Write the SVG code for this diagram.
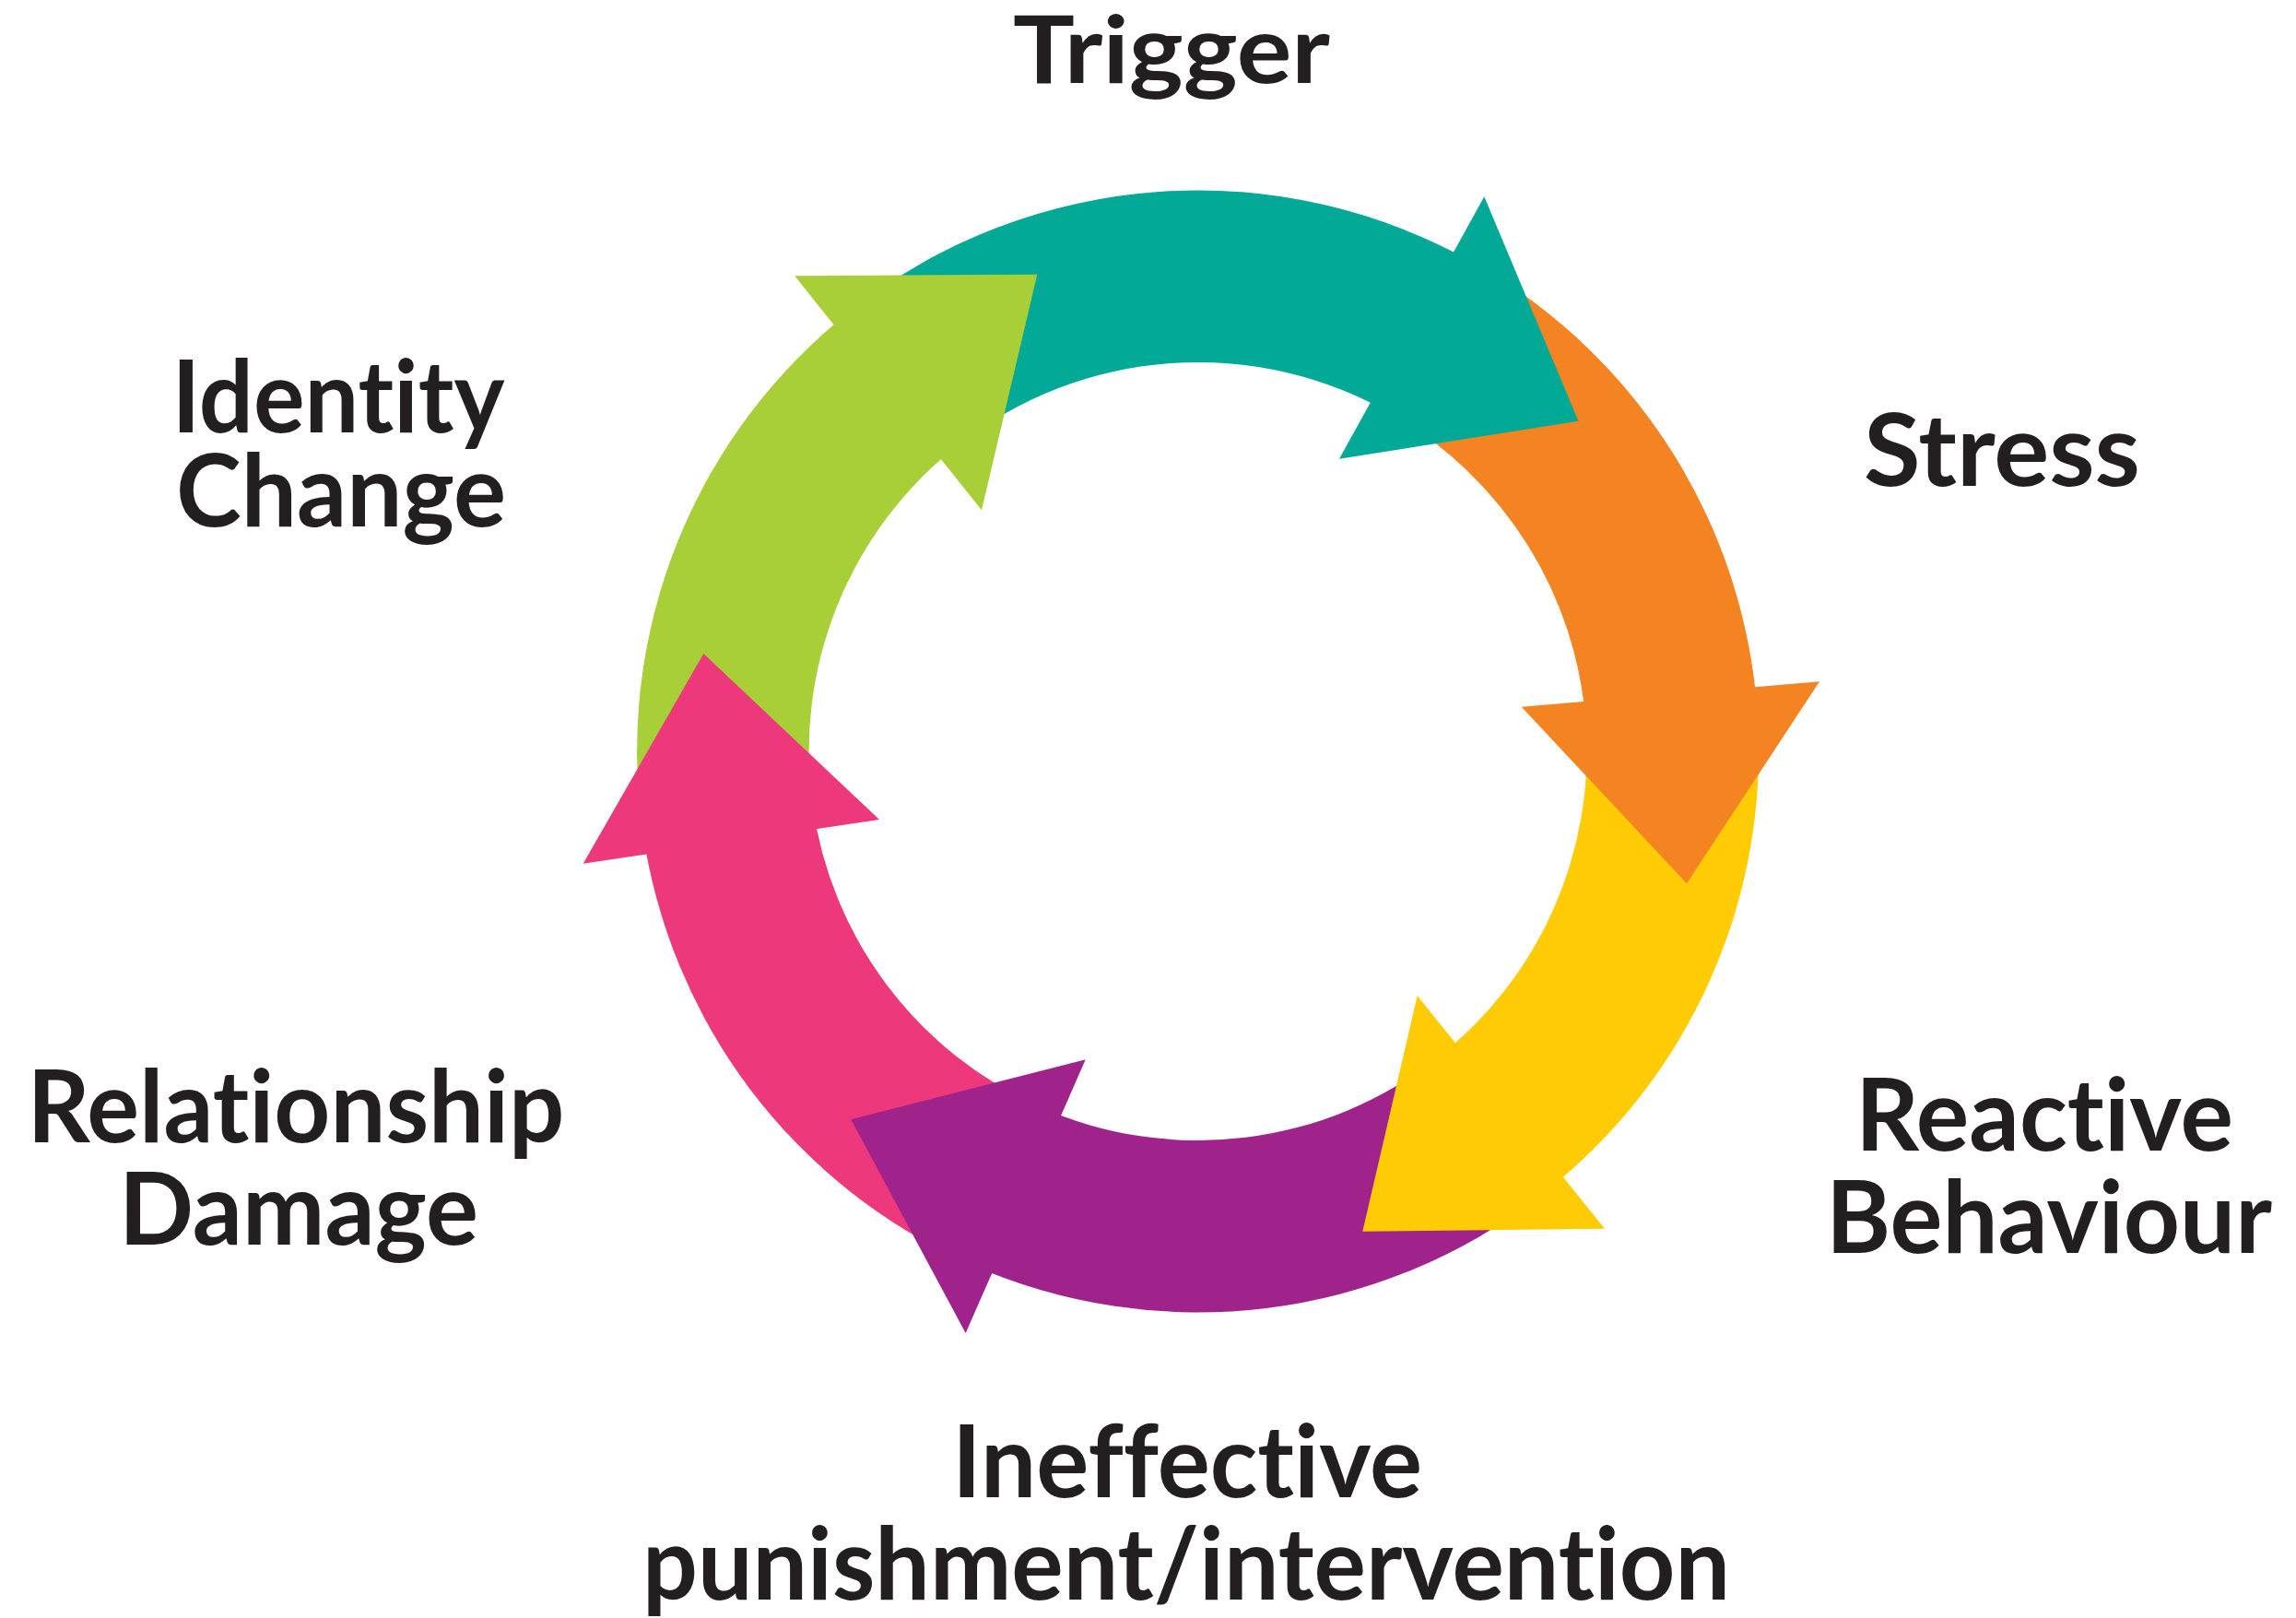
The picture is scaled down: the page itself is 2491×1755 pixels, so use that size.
<svg xmlns="http://www.w3.org/2000/svg" width="2491" height="1755" viewBox="0 0 2491 1755">
<style>
.lbl{font-family:Lato,"Liberation Sans",sans-serif;font-weight:700;fill:#231F20;text-anchor:middle;font-size:110px;font-variant-ligatures:none;font-feature-settings:"liga" 0,"clig" 0,"dlig" 0}
.teal{fill:#02A997}
.orange{fill:#F48421}
.yellow{fill:#FFCB05}
.purple{fill:#A0228B}
.pink{fill:#EE387C}
.green{fill:#A8CF38}
</style>
<rect width="2491" height="1755" fill="#FFFFFF"/>
<g id="connectors">
  <g id="arrow-bodies">
    <path class="teal" d="M924.97,335.49 A608.5,608.5 0 0 1 1603.85,288.02 L1510.6,449.54 A422,422 0 0 0 1039.79,482.46 Z"/>
    <path class="orange" d="M1603.85,288.02 A608.5,608.5 0 0 1 1906.62,772.55 L1720.57,785.56 A422,422 0 0 0 1510.6,449.54 Z"/>
    <path class="yellow" d="M1906.62,772.55 A608.5,608.5 0 0 1 1674.23,1294.51 L1559.41,1147.54 A422,422 0 0 0 1720.57,785.56 Z"/>
    <path class="purple" d="M1674.23,1294.51 A608.5,608.5 0 0 1 1052.10,1370.89 L1127.96,1200.52 A422,422 0 0 0 1559.41,1147.54 Z"/>
    <path class="pink" d="M1052.10,1370.89 A608.5,608.5 0 0 1 697.02,899.69 L881.71,873.73 A422,422 0 0 0 1127.96,1200.52 Z"/>
    <path class="green" d="M697.02,899.69 A608.5,608.5 0 0 1 924.97,335.49 L1039.79,482.46 A422,422 0 0 0 881.71,873.73 Z"/>
  </g>
  <g id="arrow-heads">
    <polygon class="teal" points="1610.3,213.3 1712.5,456.7 1453,497.7"/>
    <polygon class="orange" points="1974,739.3 1830,958.3 1650.7,766.7"/>
    <polygon class="yellow" points="1537.7,1080 1478.3,1335.7 1741,1332.7"/>
    <polygon class="purple" points="1177.7,1149.3 923.3,1214.3 1047.7,1446"/>
    <polygon class="pink" points="954,889 763.3,709 632.7,936.7"/>
    <polygon class="green" points="862.2,299.3 1125.3,297.7 1065,553.3"/>
  </g>
</g>
<g id="node-trigger"><text class="lbl" x="1271" y="90" style="font-size:102px" textLength="344" lengthAdjust="spacingAndGlyphs">Trigger</text></g>
<g id="node-stress"><text class="lbl" x="2172" y="527" textLength="300" lengthAdjust="spacingAndGlyphs">Stress</text></g>
<g id="node-reactive-behaviour">
  <text class="lbl" x="2218" y="1248" textLength="410" lengthAdjust="spacingAndGlyphs">Reactive</text>
  <text class="lbl" x="2223" y="1359" textLength="484" lengthAdjust="spacingAndGlyphs">Behaviour</text>
</g>
<g id="node-ineffective">
  <text class="lbl" x="1288" y="1624" textLength="510" lengthAdjust="spacingAndGlyphs">Ineffective</text>
  <text class="lbl" x="1287" y="1735" textLength="1180" lengthAdjust="spacingAndGlyphs">punishment/intervention</text>
</g>
<g id="node-relationship-damage">
  <text class="lbl" x="321" y="1239" textLength="583" lengthAdjust="spacingAndGlyphs">Relationship</text>
  <text class="lbl" x="324" y="1350" textLength="390" lengthAdjust="spacingAndGlyphs">Damage</text>
</g>
<g id="node-identity-change">
  <text class="lbl" x="367" y="469" textLength="361" lengthAdjust="spacingAndGlyphs">Identity</text>
  <text class="lbl" x="370" y="571" textLength="358" lengthAdjust="spacingAndGlyphs">Change</text>
</g>
</svg>
